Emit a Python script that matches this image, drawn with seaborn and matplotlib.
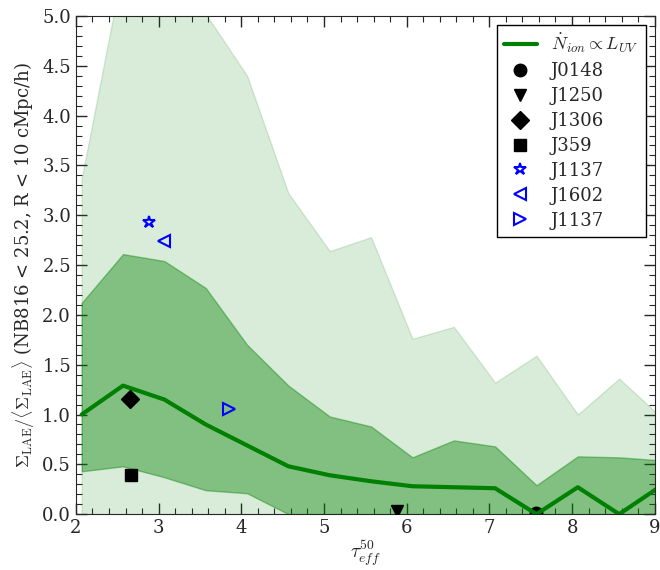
import numpy as np
import matplotlib
matplotlib.use('Agg')
from matplotlib import pyplot as plt
import seaborn as sns

# bins in tau_eff^50
tau = [2.07, 2.57, 3.07, 3.57, 4.07, 4.57, 5.07, 5.57, 6.07, 6.57, 7.07, 7.57, 8.07, 8.57, 9.07]

# model: median and percentile bands
mediana = [1.00, 1.29, 1.15, 0.90, 0.69, 0.48, 0.39, 0.33, 0.28, 0.27, 0.26, 0.00, 0.27, 0.00, 0.28]
banda1_sup = [2.12, 2.61, 2.54, 2.27, 1.70, 1.29, 0.98, 0.88, 0.57, 0.74, 0.68, 0.29, 0.58, 0.57, 0.54]
banda1_inf = [0.43, 0.48, 0.37, 0.24, 0.21, 0.00, 0.00, 0.00, 0.00, 0.00, 0.00, 0.00, 0.00, 0.00, 0.00]
banda2_sup = [3.37, 5.50, 5.60, 5.02, 4.40, 3.22, 2.64, 2.78, 1.76, 1.88, 1.32, 1.59, 1.00, 1.36, 0.98]
banda2_inf = [0.0] * 15

# quasar fields
campos = ['J0148', 'J1250', 'J1306', 'J359', 'J1137', 'J1602', 'J1137']
tau_campos = [7.57, 5.88, 2.66, 2.67, 2.89, 3.06, 3.85]
sigma_campos = [0.01, 0.03, 1.155, 0.39, 2.93, 2.74, 1.06]
marcadores = ['o', 'v', 'D', 's', '*', '<', '>']
colores = ['black', 'black', 'black', 'black', 'blue', 'blue', 'blue']
llenos = [True, True, True, True, False, False, False]

sns.set_style('ticks')
plt.rcParams['font.family'] = ['DejaVu Serif']
plt.rcParams['mathtext.fontset'] = 'cm'
plt.rcParams['font.size'] = 13

fig = plt.figure(figsize=(6.6, 5.7), dpi=100)
ax = fig.add_axes([0.115, 0.098, 0.877, 0.874])

ax.fill_between(tau, banda2_inf, banda2_sup, color='green', alpha=0.15, lw=1)
ax.fill_between(tau, banda1_inf, banda1_sup, color='green', alpha=0.4, lw=1)
sns.lineplot(x=tau, y=mediana, ax=ax, color='green', lw=3,
             label=r'$\dot{N}_{ion} \propto L_{UV}$')

for i in range(len(campos)):
    fc = colores[i] if llenos[i] else 'none'
    ax.plot(tau_campos[i], sigma_campos[i], marker=marcadores[i], ls='none',
            mfc=fc, mec=colores[i], mew=1.5 if not llenos[i] else 1,
            ms=9, label=campos[i], zorder=1.9 if i == 0 else 3)

ax.set_xlim(2, 9)
ax.set_ylim(0, 5)
ax.set_xticks(np.arange(2, 10, 1))
ax.set_xticks(np.arange(2, 9.01, 0.2), minor=True)
ax.set_yticks(np.arange(0, 5.01, 0.5))
ax.set_yticks(np.arange(0, 5.01, 0.1), minor=True)
ax.tick_params(which='both', direction='in', top=True, right=True, labelsize=13)
ax.tick_params(which='major', length=8, width=1)
ax.tick_params(which='minor', length=4, width=0.8)
ax.yaxis.set_major_formatter(matplotlib.ticker.FormatStrFormatter('%.1f'))

ax.set_xlabel(r'$\tau_{eff}^{50}$', fontsize=14, labelpad=1)
ax.set_ylabel(r'$\Sigma_{\rm LAE}/\langle\Sigma_{\rm LAE}\rangle$ (NB816 < 25.2, R < 10 cMpc/h)',
              fontsize=13)

leg = ax.legend(loc='upper right', numpoints=1, fancybox=False, framealpha=1,
                edgecolor='black', fontsize=13, handlelength=1.8, borderaxespad=0.5,
                labelspacing=0.38)
leg.get_frame().set_linewidth(1)

plt.savefig('out.png', dpi=100)
